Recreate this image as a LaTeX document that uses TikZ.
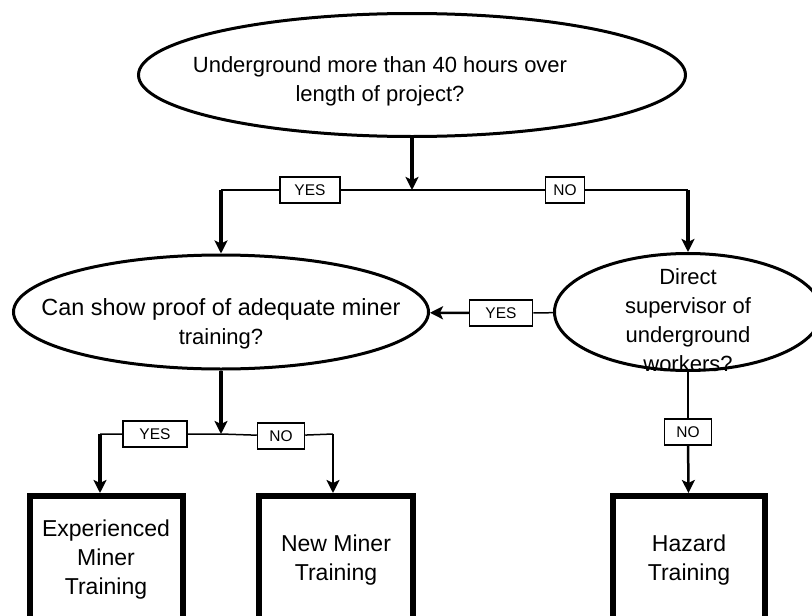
\documentclass[tikz,border=0pt]{standalone}
\usepackage{fontspec}
\setmainfont{Liberation Sans}
\usetikzlibrary{arrows.meta,positioning,shapes.geometric}

\begin{document}
\begin{tikzpicture}[x=1pt,y=-1pt,
        query/.style={ellipse,draw,line width=3pt,inner sep=0pt},
        qtext/.style={font=\fontsize{22}{29}\selectfont,align=center},
        tag/.style={draw,fill=white,line width=1.5pt,font=\fontsize{15.5}{18}\selectfont,
                    minimum height=26pt,inner sep=2pt},
        outcome/.style={draw,line width=6pt,minimum width=153pt,minimum height=128pt,
                    font=\fontsize{23}{29}\selectfont,align=center},
        link/.style={line width=1.5pt},
        arr/.style={-{Stealth[length=13pt,width=13pt,inset=3pt]},line width=3.5pt}]
  \clip (0,0) rectangle (812,616);
  % questions
  \node[query,minimum width=547pt,minimum height=123pt,
        label={[qtext,xshift=-32pt,yshift=-6pt]center:Underground more than 40 hours over\\length of project?}]
        (hours) at (412,75) {};
  \node[query,minimum width=415pt,minimum height=114pt,
        label={[qtext,yshift=-12pt]center:{\fontsize{23.4}{25}\selectfont Can show proof of adequate miner\\training?}}]
        (proof) at (221,312) {};
  \node[query,minimum width=267pt,minimum height=117pt,
        label={[qtext,yshift=-8pt]center:Direct\\supervisor of\\underground\\workers?}]
        (super) at (688,312) {};
  % outcomes
  \node[outcome] (exper) at (106,560) {Experienced\\Miner\\Training};
  \node[outcome,minimum width=154pt] (newmin) at (336,560) {New Miner\\Training};
  \node[outcome,minimum width=152pt] (hazard) at (689,560) {Hazard\\Training};
  % answers
  \coordinate (j1) at (412,190);
  \coordinate (c1) at (proof.north |- j1);
  \coordinate (c2) at (super.north |- j1);
  \node[tag,minimum width=60pt] (yes1) at (310,190) {YES};
  \node[tag,minimum width=39pt] (no1) at (565,190) {NO};
  \node[tag,minimum width=63pt] (yes3) at (501,313) {YES};
  \node[tag,minimum width=47pt] (no3) at (688,432) {NO};
  \coordinate (j2) at (221,434);
  \coordinate (c3) at (100,434);
  \coordinate (c4) at (333,434);
  \node[tag,minimum width=64pt] (yes2) at (155,434) {YES};
  \node[tag,minimum width=47pt] (no2) at (281,436) {NO};
  % connectors
  \draw[arr] (hours) -- (j1);
  \draw[link] (c1) -- (yes1) -- (j1) -- (no1) -- (c2);
  \draw[arr] (c1) -- (proof);
  \draw[arr] (c2) -- (super);
  \draw[link] (super) -- (yes3);
  \draw[arr,line width=2.5pt] (yes3) -- (proof);
  \draw[link,line width=2.5pt] (super) -- (no3);
  \draw[arr,line width=2.5pt] (no3) -- (hazard);
  \draw[arr] (proof) -- (j2);
  \draw[link] (c3) -- (yes2) -- (j2) -- (no2) -- (c4);
  \draw[arr] (c3) -- (c3 |- exper.north);
  \draw[arr,line width=2.5pt] (c4) -- (c4 |- newmin.north);
\end{tikzpicture}
\end{document}
